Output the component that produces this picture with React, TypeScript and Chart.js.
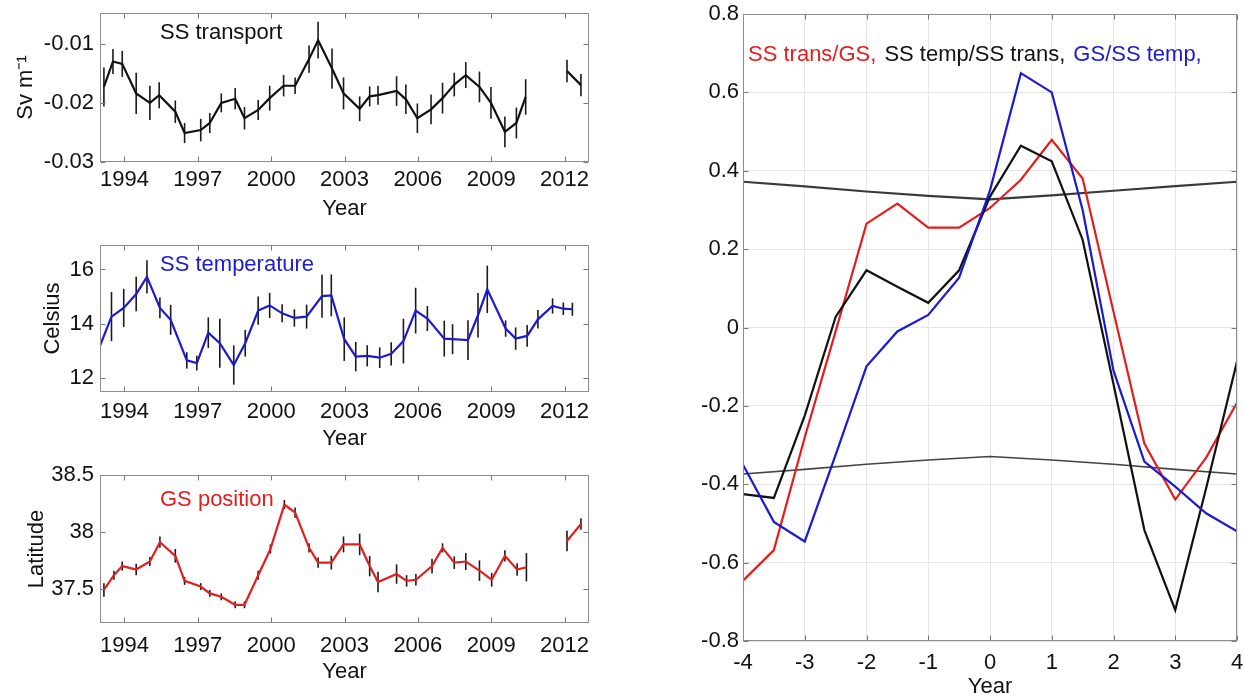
import React, { useEffect, useRef } from 'react';
import { Chart, registerables } from 'chart.js';

Chart.register(...registerables);

// ---------- Data ----------
const yearTicks = [1994, 1997, 2000, 2003, 2006, 2009, 2012];
const yearTickLabels = ['1994', '1997', '2000', '2003', '2006', '2009', '2012'];

const transportYears = [1993.16, 1993.53, 1993.91, 1994.48, 1995.04, 1995.42, 1996.08, 1996.46, 1997.12, 1997.49, 1997.96, 1998.53, 1998.91, 1999.47, 1999.94, 2000.51, 2000.98, 2001.55, 2001.92, 2002.49, 2002.96, 2003.62, 2004.03, 2004.37, 2005.13, 2005.51, 2005.98, 2006.54, 2007.01, 2007.49, 2007.96, 2008.52, 2008.99, 2009.56, 2010.03, 2010.41, 2011.2, 2012.10, 2012.67];
const transportValues = [-0.0173, -0.0130, -0.0134, -0.0184, -0.0200, -0.0187, -0.0215, -0.0251, -0.0246, -0.0234, -0.0200, -0.0193, -0.0226, -0.0212, -0.0192, -0.0171, -0.0171, -0.0126, -0.0094, -0.0142, -0.0184, -0.0210, -0.0189, -0.0187, -0.0180, -0.0194, -0.0226, -0.0211, -0.0192, -0.0169, -0.0153, -0.0173, -0.0200, -0.0249, -0.0234, -0.0190, null, -0.0146, -0.0170];
const transportErrors = [0.0033, 0.0021, 0.0022, 0.0035, 0.0029, 0.0022, 0.0019, 0.0017, 0.0019, 0.0017, 0.0016, 0.0018, 0.0019, 0.0017, 0.0021, 0.0018, 0.0014, 0.0023, 0.0031, 0.0034, 0.0027, 0.0021, 0.0017, 0.0016, 0.0025, 0.0025, 0.0025, 0.0025, 0.0026, 0.0020, 0.0022, 0.0026, 0.0027, 0.0026, 0.0026, 0.0030, null, 0.0019, 0.0019];
const transportTicks = [-0.03, -0.02, -0.01];
const transportTickLabels = ['-0.03', '-0.02', '-0.01'];

const temperatureYears = [1993.00, 1993.47, 1993.97, 1994.48, 1994.92, 1995.45, 1995.89, 1996.55, 1996.96, 1997.43, 1997.90, 1998.47, 1998.94, 1999.47, 1999.94, 2000.45, 2000.95, 2001.45, 2002.08, 2002.46, 2002.99, 2003.46, 2003.93, 2004.44, 2004.91, 2005.41, 2005.91, 2006.39, 2007.08, 2007.42, 2008.05, 2008.46, 2008.84, 2009.59, 2010.00, 2010.47, 2010.91, 2011.51, 2011.95, 2012.32];
const temperatureValues = [13.20, 14.27, 14.59, 15.10, 15.73, 14.59, 14.15, 12.66, 12.56, 13.68, 13.29, 12.49, 13.29, 14.49, 14.68, 14.39, 14.22, 14.27, 15.02, 15.05, 13.44, 12.80, 12.83, 12.76, 12.90, 13.37, 14.49, 14.20, 13.46, 13.44, 13.41, 14.32, 15.27, 13.83, 13.46, 13.56, 14.17, 14.66, 14.56, 14.54];
const temperatureErrors = [null, 0.90, 0.70, 0.63, 0.61, 0.38, 0.55, 0.30, 0.27, 0.56, 0.90, 0.72, 0.49, 0.52, 0.46, 0.33, 0.32, 0.44, 0.79, 0.77, 0.80, 0.54, 0.39, 0.38, 0.43, 0.82, 0.84, 0.46, 0.66, 0.55, 0.73, 0.82, 0.87, 0.30, 0.41, 0.40, 0.34, 0.28, 0.23, 0.24];
const temperatureTicks = [12, 14, 16];
const temperatureTickLabels = ['12', '14', '16'];

const gsYears = [1993.16, 1993.57, 1993.91, 1994.48, 1995.04, 1995.45, 1996.08, 1996.46, 1997.12, 1997.49, 1997.96, 1998.53, 1998.91, 1999.47, 1999.97, 2000.54, 2000.98, 2001.55, 2001.92, 2002.46, 2002.96, 2003.62, 2004.03, 2004.37, 2005.13, 2005.54, 2005.92, 2006.58, 2007.01, 2007.49, 2007.96, 2008.52, 2009.02, 2009.56, 2010.06, 2010.44, 2011.2, 2012.10, 2012.67];
const gsValues = [37.49, 37.62, 37.70, 37.67, 37.74, 37.91, 37.79, 37.57, 37.52, 37.46, 37.43, 37.36, 37.36, 37.62, 37.85, 38.24, 38.17, 37.86, 37.73, 37.73, 37.89, 37.89, 37.70, 37.56, 37.63, 37.57, 37.58, 37.70, 37.86, 37.73, 37.74, 37.66, 37.58, 37.79, 37.67, 37.69, null, 37.92, 38.07];
const gsErrors = [0.06, 0.04, 0.04, 0.05, 0.04, 0.05, 0.06, 0.035, 0.03, 0.03, 0.03, 0.03, 0.03, 0.04, 0.04, 0.04, 0.045, 0.04, 0.045, 0.06, 0.07, 0.095, 0.09, 0.09, 0.085, 0.05, 0.05, 0.065, 0.04, 0.055, 0.075, 0.09, 0.06, 0.05, 0.055, 0.125, null, 0.09, 0.05];
const gsTicks = [37.5, 38, 38.5];
const gsTickLabels = ['37.5', '38', '38.5'];

const lags = [-4, -3.5, -3, -2.5, -2, -1.5, -1, -0.5, 0, 0.5, 1, 1.5, 2, 2.5, 3, 3.5, 4];
const transGsCorr = [-0.646, -0.568, -0.28, -0.01, 0.265, 0.316, 0.255, 0.255, 0.305, 0.377, 0.479, 0.380, 0.04, -0.296, -0.439, -0.332, -0.192];
const tempTransCorr = [-0.425, -0.435, -0.225, 0.027, 0.146, 0.104, 0.063, 0.146, 0.334, 0.464, 0.424, 0.224, -0.145, -0.517, -0.721, -0.41, -0.087];
const gsTempCorr = [-0.350, -0.496, -0.546, -0.325, -0.099, -0.010, 0.032, 0.127, 0.35, 0.649, 0.600, 0.30, -0.11, -0.342, -0.406, -0.474, -0.520];
const sigLags = [-4, -3, -2, -1, 0, 1, 2, 3, 4];
const sigUpper = [0.372, 0.360, 0.347, 0.336, 0.327, 0.337, 0.349, 0.361, 0.372];
const sigLower = [-0.374, -0.362, -0.349, -0.338, -0.329, -0.338, -0.349, -0.362, -0.374];
const lagTicks = [-4, -3, -2, -1, 0, 1, 2, 3, 4];
const lagTickLabels = ['-4', '-3', '-2', '-1', '0', '1', '2', '3', '4'];
const corrTicks = [-0.8, -0.6, -0.4, -0.2, 0, 0.2, 0.4, 0.6, 0.8];
const corrTickLabels = ['-0.8', '-0.6', '-0.4', '-0.2', '0', '0.2', '0.4', '0.6', '0.8'];

// ---------- Styles ----------
const FONT = "'Liberation Sans', Arial, Helvetica, sans-serif";
const RED = '#e41e1e';
const BLUE = '#1a1ad2';
const BLACK = '#111111';
const FRAME = '#8c8c8c';

type TextPart = { text: string; color: string };

function makeFramePlugin(inwardTicks: boolean) {
  return {
    id: 'frameBox',
    afterDraw(chart: any) {
      const { ctx, chartArea: a } = chart;
      ctx.save();
      const l = Math.round(a.left) + 0.5;
      const t = Math.round(a.top) + 0.5;
      const r = Math.round(a.right) - 0.5;
      const b = Math.round(a.bottom) - 0.5;
      if (inwardTicks) {
        ctx.strokeStyle = '#777';
        ctx.lineWidth = 1;
        const L = 5;
        chart.scales.x.ticks.forEach((tk: any) => {
          const px = Math.round(chart.scales.x.getPixelForValue(tk.value)) + 0.5;
          ctx.beginPath();
          ctx.moveTo(px, b); ctx.lineTo(px, b - L);
          ctx.moveTo(px, t); ctx.lineTo(px, t + L);
          ctx.stroke();
        });
        chart.scales.y.ticks.forEach((tk: any) => {
          const py = Math.round(chart.scales.y.getPixelForValue(tk.value)) + 0.5;
          ctx.beginPath();
          ctx.moveTo(l, py); ctx.lineTo(l + L, py);
          ctx.moveTo(r, py); ctx.lineTo(r - L, py);
          ctx.stroke();
        });
      }
      ctx.strokeStyle = FRAME;
      ctx.lineWidth = 1;
      ctx.strokeRect(l, t, r - l, b - t);
      ctx.restore();
    },
  };
}

function makeErrorBarPlugin(xs: number[], values: (number | null)[], errors: (number | null)[]) {
  return {
    id: 'errorBars',
    beforeDatasetsDraw(chart: any) {
      const { ctx, chartArea: a } = chart;
      const sx = chart.scales.x;
      const sy = chart.scales.y;
      ctx.save();
      ctx.beginPath();
      ctx.rect(a.left, a.top, a.width, a.height);
      ctx.clip();
      ctx.strokeStyle = '#1a1a1a';
      ctx.lineWidth = 1.6;
      xs.forEach((x, i) => {
        const v = values[i];
        const e = errors[i];
        if (v == null || e == null) return;
        const px = sx.getPixelForValue(x);
        ctx.beginPath();
        ctx.moveTo(px, sy.getPixelForValue(v - e));
        ctx.lineTo(px, sy.getPixelForValue(v + e));
        ctx.stroke();
      });
      ctx.restore();
    },
  };
}

function makeTextPlugin(parts: TextPart[], dx: number, cy: number, gap: number) {
  return {
    id: 'inPlotText',
    afterDraw(chart: any) {
      const { ctx, chartArea: a } = chart;
      ctx.save();
      ctx.font = `22px ${FONT}`;
      ctx.textBaseline = 'middle';
      ctx.textAlign = 'left';
      let x = a.left + dx;
      parts.forEach((p) => {
        ctx.fillStyle = p.color;
        ctx.fillText(p.text, x, cy);
        x += ctx.measureText(p.text).width + gap;
      });
      ctx.restore();
    },
  };
}

function fixedScale(size: number, horizontal: boolean) {
  return (scale: any) => {
    if (horizontal) scale.height = size;
    else scale.width = size;
    scale.paddingTop = 0;
    scale.paddingBottom = 0;
    scale.paddingLeft = 0;
    scale.paddingRight = 0;
  };
}

function setTicks(values: number[]) {
  return (scale: any) => {
    scale.ticks = values.map((v) => ({ value: v }));
  };
}

type SeriesPanelSpec = {
  padTop: number;
  xAxisHeight: number;
  xTickPad: number;
  xTitlePad: number;
  yTitlePad: number;
  yTitle: string;
  xs: number[];
  values: (number | null)[];
  errors: (number | null)[];
  color: string;
  yMin: number;
  yMax: number;
  yTicks: number[];
  yTickLabels: string[];
  label: string;
  labelColor: string;
  labelY: number;
};

function buildSeriesConfig(s: SeriesPanelSpec): any {
  return {
    type: 'line',
    data: {
      datasets: [
        {
          data: s.xs.map((x, i) => ({ x, y: s.values[i] })),
          borderColor: s.color,
          borderWidth: 2.2,
          pointRadius: 0,
          tension: 0,
          spanGaps: false,
        },
      ],
    },
    options: {
      responsive: false,
      animation: false,
      devicePixelRatio: 1,
      layout: { padding: { top: s.padTop, right: 11, left: 0, bottom: 0 } },
      plugins: { legend: { display: false }, tooltip: { enabled: false } },
      scales: {
        x: {
          type: 'linear',
          min: 1993,
          max: 2013,
          afterBuildTicks: setTicks(yearTicks),
          afterFit: fixedScale(s.xAxisHeight, true),
          grid: { drawOnChartArea: false, drawTicks: false },
          border: { display: false },
          ticks: {
            autoSkip: false,
            maxRotation: 0,
            padding: s.xTickPad,
            color: '#111',
            font: { family: FONT, size: 22, lineHeight: 1.2 },
            callback: (_v: any, i: number) => yearTickLabels[i],
          },
          title: {
            display: true,
            text: 'Year',
            color: '#111',
            font: { family: FONT, size: 22, lineHeight: 1.2 },
            padding: { top: 0, bottom: s.xTitlePad },
          },
        },
        y: {
          type: 'linear',
          min: s.yMin,
          max: s.yMax,
          afterBuildTicks: setTicks(s.yTicks),
          afterFit: fixedScale(100, false),
          grid: { drawOnChartArea: false, drawTicks: false },
          border: { display: false },
          ticks: {
            padding: 6,
            color: '#111',
            font: { family: FONT, size: 22, lineHeight: 1.2 },
            callback: (_v: any, i: number) => s.yTickLabels[i],
          },
          title: {
            display: true,
            text: s.yTitle,
            color: '#111',
            font: { family: FONT, size: 22, lineHeight: 1.2 },
            padding: { top: s.yTitlePad, bottom: 0 },
          },
        },
      },
    },
    plugins: [
      makeErrorBarPlugin(s.xs, s.values, s.errors),
      makeFramePlugin(true),
      makeTextPlugin([{ text: s.label, color: s.labelColor }], 60, s.labelY, 0),
    ],
  };
}

function buildCorrelationConfig(): any {
  const line = (ys: number[], xs: number[], color: string, width: number) => ({
    data: xs.map((x, i) => ({ x, y: ys[i] })),
    borderColor: color,
    borderWidth: width,
    pointRadius: 0,
    tension: 0,
  });
  return {
    type: 'line',
    data: {
      datasets: [
        line(gsTempCorr, lags, BLUE, 2.2),
        line(tempTransCorr, lags, BLACK, 2.2),
        line(transGsCorr, lags, RED, 2.2),
        line(sigUpper, sigLags, '#3a3a3a', 2.2),
        line(sigLower, sigLags, '#444444', 1.6),
      ],
    },
    options: {
      responsive: false,
      animation: false,
      devicePixelRatio: 1,
      layout: { padding: { top: 14, right: 7, left: 0, bottom: 0 } },
      plugins: { legend: { display: false }, tooltip: { enabled: false } },
      scales: {
        x: {
          type: 'linear',
          min: -4,
          max: 4,
          afterBuildTicks: setTicks(lagTicks),
          afterFit: fixedScale(59, true),
          grid: { drawOnChartArea: true, drawTicks: false, color: '#e6e6e6', lineWidth: 1 },
          border: { display: false },
          ticks: {
            autoSkip: false,
            maxRotation: 0,
            padding: 9,
            color: '#111',
            font: { family: FONT, size: 22, lineHeight: 1.2 },
            callback: (_v: any, i: number) => lagTickLabels[i],
          },
          title: {
            display: true,
            text: 'Year',
            color: '#111',
            font: { family: FONT, size: 22, lineHeight: 1.2 },
            padding: { top: 0, bottom: 0 },
          },
        },
        y: {
          type: 'linear',
          min: -0.8,
          max: 0.8,
          afterBuildTicks: setTicks(corrTicks),
          afterFit: fixedScale(143, false),
          grid: { drawOnChartArea: true, drawTicks: false, color: '#e6e6e6', lineWidth: 1 },
          border: { display: false },
          ticks: {
            padding: 4,
            color: '#111',
            font: { family: FONT, size: 22, lineHeight: 1.2 },
            callback: (_v: any, i: number) => corrTickLabels[i],
          },
        },
      },
    },
    plugins: [
      makeFramePlugin(true),
      makeTextPlugin(
        [
          { text: 'SS trans/GS,', color: RED },
          { text: 'SS temp/SS trans,', color: BLACK },
          { text: 'GS/SS temp,', color: BLUE },
        ],
        5,
        55,
        8,
      ),
    ],
  };
}

function ChartCanvas({ left, top, width, height, build }: { left: number; top: number; width: number; height: number; build: () => any }) {
  const ref = useRef<HTMLCanvasElement | null>(null);
  useEffect(() => {
    if (!ref.current) return;
    const chart = new Chart(ref.current, build());
    return () => chart.destroy();
  }, []);
  return (
    <canvas
      ref={ref}
      width={width}
      height={height}
      style={{ position: 'absolute', left, top, width, height }}
    />
  );
}

export default function App() {
  return (
    <div style={{ position: 'fixed', left: 0, top: 0, width: 1244, height: 700, background: '#fff', overflow: 'hidden' }}>
      <ChartCanvas
        left={0}
        top={0}
        width={600}
        height={230}
        build={() =>
          buildSeriesConfig({
            padTop: 13, xAxisHeight: 68, xTickPad: 5, xTitlePad: 8, yTitlePad: 13,
            yTitle: 'Sv m\u207B\u00B9',
            xs: transportYears, values: transportValues, errors: transportErrors,
            color: BLACK, yMin: -0.03, yMax: -0.0048, yTicks: transportTicks, yTickLabels: transportTickLabels,
            label: 'SS transport', labelColor: BLACK, labelY: 33,
          })
        }
      />
      <ChartCanvas
        left={0}
        top={230}
        width={600}
        height={230}
        build={() =>
          buildSeriesConfig({
            padTop: 15, xAxisHeight: 68, xTickPad: 7, xTitlePad: 8, yTitlePad: 40,
            yTitle: 'Celsius',
            xs: temperatureYears, values: temperatureValues, errors: temperatureErrors,
            color: BLUE, yMin: 11.5, yMax: 16.9, yTicks: temperatureTicks, yTickLabels: temperatureTickLabels,
            label: 'SS temperature', labelColor: BLUE, labelY: 35,
          })
        }
      />
      <ChartCanvas
        left={0}
        top={460}
        width={600}
        height={240}
        build={() =>
          buildSeriesConfig({
            padTop: 15, xAxisHeight: 77, xTickPad: 10, xTitlePad: 15, yTitlePad: 24,
            yTitle: 'Latitude',
            xs: gsYears, values: gsValues, errors: gsErrors,
            color: RED, yMin: 37.2, yMax: 38.5, yTicks: gsTicks, yTickLabels: gsTickLabels,
            label: 'GS position', labelColor: RED, labelY: 40,
          })
        }
      />
      <ChartCanvas left={600} top={0} width={644} height={700} build={buildCorrelationConfig} />
    </div>
  );
}
